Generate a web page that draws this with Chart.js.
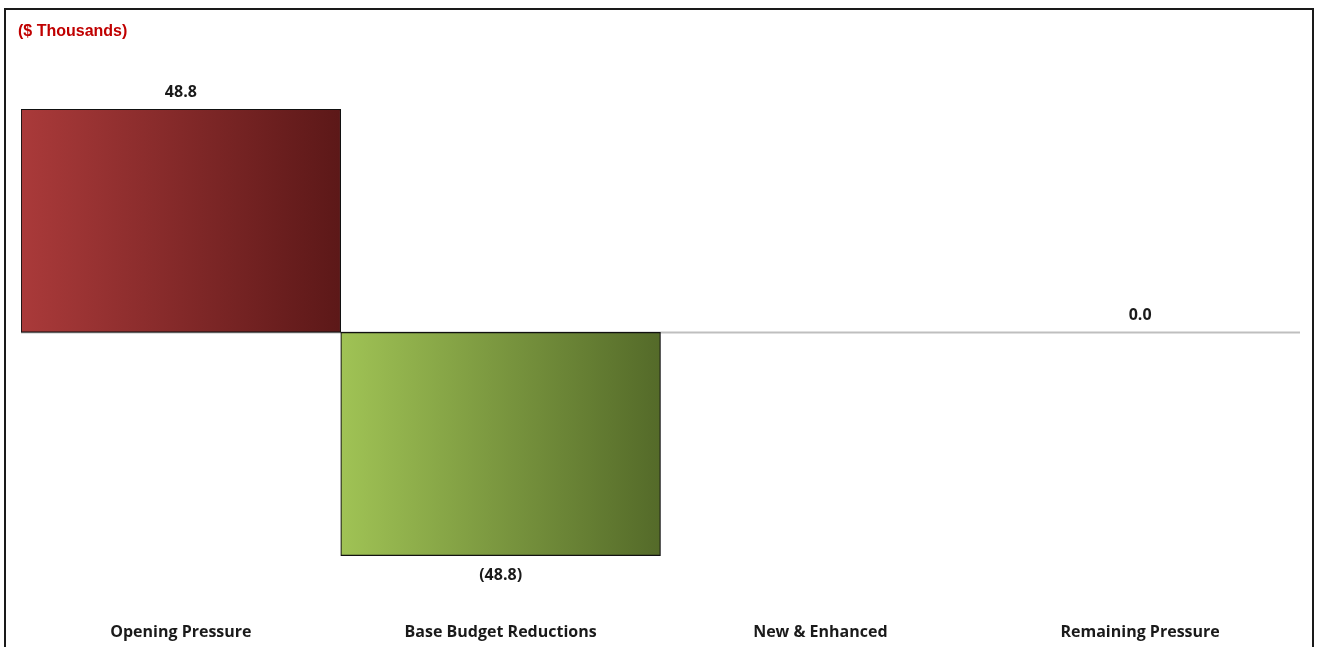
<!DOCTYPE html>
<html>
<head>
<meta charset="utf-8">
<script src="https://cdn.jsdelivr.net/npm/chart.js@4.4.1/dist/chart.umd.min.js"></script>
<style>
  html, body { margin: 0; padding: 0; background: #fff; overflow: hidden; }
  #wrap { width: 1317px; height: 647px; position: relative; overflow: hidden; }
</style>
</head>
<body>
<div id="wrap"><canvas id="waterfall" width="1317" height="658"></canvas></div>
<script>
// categories
const categories = ["Opening Pressure", "Base Budget Reductions", "New & Enhanced", "Remaining Pressure"];
// values ($ thousands), null = no bar / no label
const values = [48.8, -48.8, null, 0.0];
// gradient colours (left, right)
const barColors = [
  ["#aa3a3a", "#5c1818"],
  ["#a0c355", "#546a29"],
  ["#ffffff", "#ffffff"],
  ["#ffffff", "#ffffff"]
];

const labelFont = "'Open Sans', Lato, sans-serif";

/**
 * gradient fill per bar
 */
function barGradient(ctx) {
  const chart = ctx.chart;
  const idx = ctx.dataIndex;
  if (!chart.chartArea || !chart.scales.x) return barColors[idx][0];
  const xs = chart.scales.x;
  const w = xs.width / categories.length;
  const cx = xs.getPixelForValue(idx);
  const g = chart.ctx.createLinearGradient(cx - w / 2, 0, cx + w / 2, 0);
  g.addColorStop(0, barColors[idx][0]);
  g.addColorStop(1, barColors[idx][1]);
  return g;
}

function fmt(v) {
  return v < 0 ? "(" + Math.abs(v).toFixed(1) + ")" : v.toFixed(1);
}

// frame, unit title and zero line
const framePlugin = {
  id: "frame",
  beforeDatasetsDraw(chart) {
    const c = chart.ctx;
    const ys = chart.scales.y;
    const area = chart.chartArea;
    c.save();
    // outer border
    c.strokeStyle = "#1a1a1a";
    c.lineWidth = 2;
    c.beginPath();
    c.moveTo(5, 670);
    c.lineTo(5, 9);
    c.lineTo(1313, 9);
    c.lineTo(1313, 670);
    c.stroke();
    // unit
    c.fillStyle = "#c00000";
    c.font = "bold 16px 'Liberation Sans', Arial, sans-serif";
    c.textBaseline = "middle";
    c.textAlign = "left";
    c.fillText("($ Thousands)", 18, 32);
    // zero line
    const y0 = ys.getPixelForValue(0);
    c.strokeStyle = "#bfbfbf";
    c.lineWidth = 2;
    c.beginPath();
    c.moveTo(area.left, y0);
    c.lineTo(area.right, y0);
    c.stroke();
    c.restore();
  },
  afterDatasetsDraw(chart) {
    const c = chart.ctx;
    const meta = chart.getDatasetMeta(0);
    c.save();
    c.fillStyle = "#1a1a1a";
    c.font = "bold 16px " + labelFont;
    c.textAlign = "center";
    c.textBaseline = "middle";
    meta.data.forEach((bar, i) => {
      const v = values[i];
      if (v === null) return;
      const y = v < 0 ? bar.y + 20 : bar.y - 17;
      c.fillText(fmt(v), bar.x, y);
    });
    c.restore();
  }
};

const configBar = {
  type: "bar",
  data: {
    labels: categories,
    datasets: [{
      data: values,
      backgroundColor: barGradient,
      borderColor: "#111111",
      borderWidth: 1.2,
      borderSkipped: false,
      categoryPercentage: 1,
      barPercentage: 1
    }]
  },
  options: {
    responsive: false,
    animation: false,
    layout: { padding: { left: 21, right: 17, top: 58, bottom: 0 } },
    plugins: { legend: { display: false }, tooltip: { enabled: false } },
    scales: {
      x: {
        grid: { display: false, drawTicks: false },
        border: { display: false },
        ticks: {
          padding: 16,
          color: "#1a1a1a",
          font: { family: labelFont, size: 16, weight: "bold" },
          maxRotation: 0
        }
      },
      y: {
        display: false,
        min: -60,
        max: 60
      }
    }
  },
  plugins: [framePlugin]
};

const barChart = new Chart(document.getElementById("waterfall").getContext("2d"), configBar);
</script>
</body>
</html>
